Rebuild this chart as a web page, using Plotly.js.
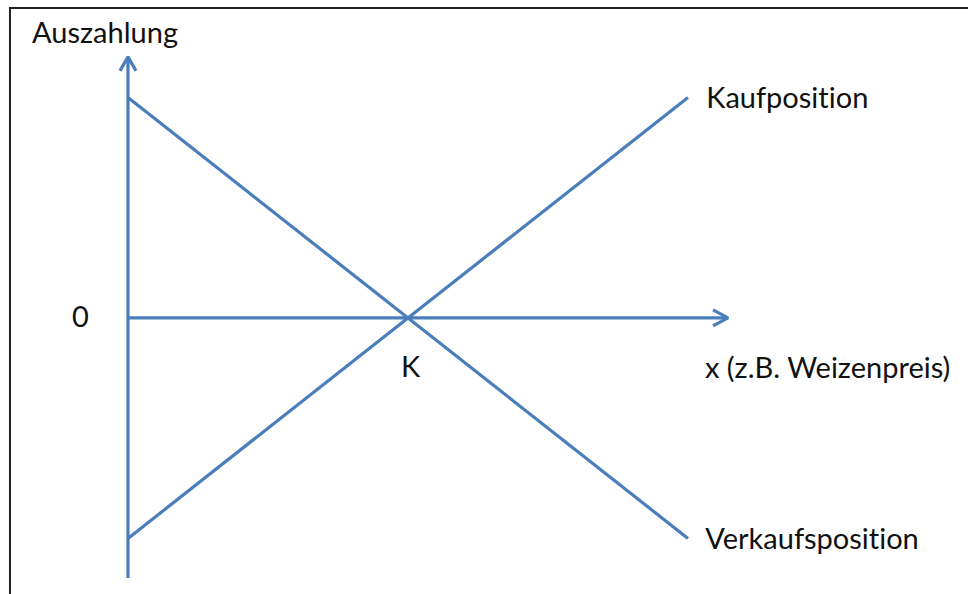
<!DOCTYPE html>
<html>
<head>
<meta charset="utf-8">
<script src="https://cdn.plot.ly/plotly-3.0.1.min.js"></script>
<style>html,body{margin:0;padding:0;background:#fff;}#chart{width:968px;height:594px;}
#chart text{font-variant-ligatures:none;font-feature-settings:"liga" 0;}</style>
</head>
<body>
<div id="chart"></div>
<script>
// Price axis (x): 0 = payoff axis, 1 = strike K, 2 = end of the payoff lines
const priceX = [0, 2];
const kaufPayoff = [-1, 1];       // Kaufposition (long)
const verkaufPayoff = [1, -1];    // Verkaufsposition (short)
const strikeK = 1;
// Axis extents
const xAxisEnd = 2.143;
const yAxisTop = 1.184;
const yAxisBottom = -1.179;
// Labels
const labelY = "Auszahlung";
const labelX = "x (z.B. Weizenpreis)";
const labelKauf = "Kaufposition";
const labelVerkauf = "Verkaufsposition";
const labelK = "K";
const labelZero = "0";

const blue = "#4A7EBB";
const ln = {color: blue, width: 3.2};
const base = {mode: "lines", line: ln, hoverinfo: "skip", showlegend: false};

// arrow head sizes (data units)
const vBack = 0.0635, vSide = 0.0286;
const hBack = 0.0536, hSide = 0.0363;

const traces = [
  Object.assign({x: [0, 0], y: [yAxisBottom, yAxisTop]}, base),
  Object.assign({x: [-vSide, 0, vSide], y: [yAxisTop - vBack, yAxisTop, yAxisTop - vBack]}, base),
  Object.assign({x: [0, xAxisEnd], y: [0, 0]}, base),
  Object.assign({x: [xAxisEnd - hBack, xAxisEnd, xAxisEnd - hBack], y: [hSide, 0, -hSide]}, base),
  Object.assign({x: priceX, y: kaufPayoff}, base),
  Object.assign({x: priceX, y: verkaufPayoff}, base)
];

const font = {family: "Lato, 'Open Sans', sans-serif", size: 29, color: "#111"};
function ann(text, x, y, xanchor) {
  return {text: text, x: x, y: y, xref: "x", yref: "y", showarrow: false,
          xanchor: xanchor, yanchor: "middle", font: font};
}

const layout = {
  width: 968, height: 594,
  margin: {l: 0, r: 0, t: 0, b: 0},
  paper_bgcolor: "#fff", plot_bgcolor: "#fff",
  xaxis: {range: [-0.457, 3.0], visible: false, fixedrange: true},
  yaxis: {range: [-1.252, 1.442], visible: false, fixedrange: true},
  showlegend: false,
  hovermode: false,
  annotations: [
    ann(labelY, -0.082, 1.297, "center"),
    ann(labelKauf, 2.057, 1.006, "left"),
    ann(labelVerkauf, 2.054, -0.997, "left"),
    ann(labelZero, -0.171, 0.012, "center"),
    ann(labelK, strikeK + 0.011, -0.215, "center"),
    ann(labelX, 2.054, -0.218, "left")
  ],
  shapes: [{
    type: "path", xref: "paper", yref: "paper",
    path: "M 0.0103 0 L 0.0103 0.9865 L 1 0.9865",
    line: {color: "#222", width: 2}
  }]
};

Plotly.newPlot("chart", traces, layout, {displayModeBar: false, staticPlot: true});
</script>
</body>
</html>
